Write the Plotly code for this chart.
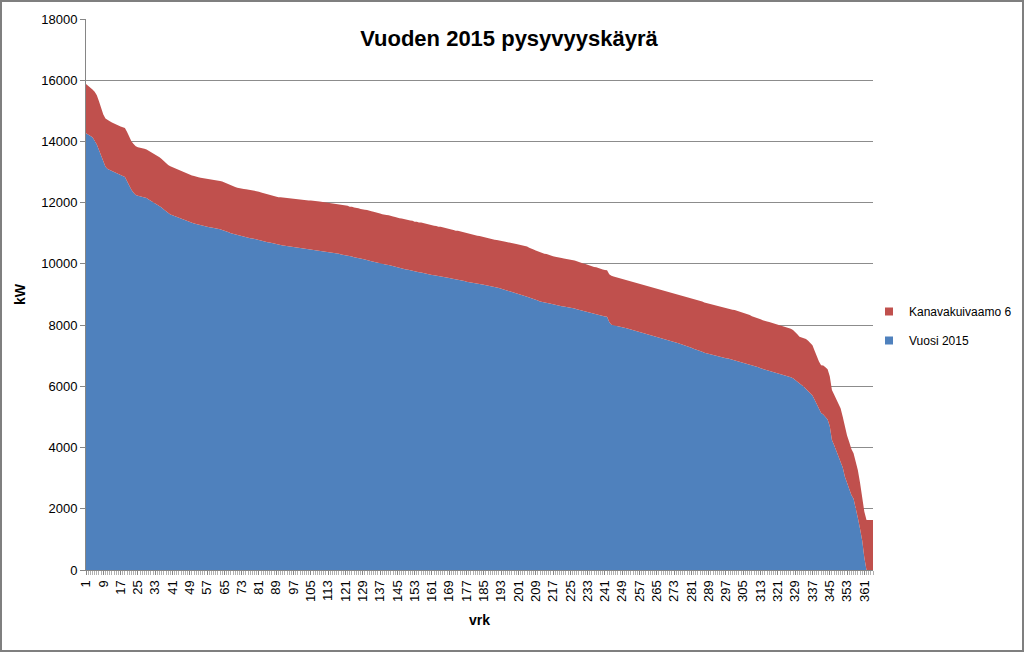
import plotly.graph_objects as go

days = list(range(1, 366))

vuosi_2015 = [
    14270, 14230, 14180, 14140, 14020, 13900, 13720, 13520, 13300, 13170,
    13100, 13060, 13030, 13000, 12970, 12940, 12910, 12880, 12840, 12700,
    12540, 12420, 12320, 12250, 12230, 12210, 12190, 12160, 12150, 12100,
    12060, 12010, 11970, 11940, 11900, 11840, 11780, 11720, 11660, 11610,
    11590, 11560, 11530, 11500, 11470, 11440, 11410, 11380, 11360, 11340,
    11320, 11300, 11280, 11260, 11240, 11230, 11220, 11200, 11190, 11180,
    11170, 11150, 11130, 11110, 11090, 11060, 11030, 11000, 10980, 10960,
    10940, 10920, 10900, 10890, 10870, 10860, 10840, 10830, 10810, 10800,
    10780, 10760, 10740, 10730, 10710, 10700, 10680, 10660, 10640, 10620,
    10610, 10600, 10590, 10580, 10570, 10560, 10550, 10530, 10520, 10510,
    10500, 10490, 10480, 10470, 10470, 10460, 10450, 10440, 10430, 10420,
    10410, 10400, 10390, 10380, 10370, 10360, 10340, 10330, 10310, 10300,
    10280, 10270, 10250, 10240, 10220, 10210, 10190, 10170, 10160, 10140,
    10130, 10110, 10090, 10070, 10050, 10040, 10020, 10000, 9990, 9970,
    9960, 9940, 9920, 9900, 9880, 9860, 9850, 9840, 9820, 9810,
    9790, 9780, 9760, 9750, 9730, 9720, 9700, 9690, 9670, 9660,
    9640, 9630, 9620, 9600, 9590, 9580, 9560, 9550, 9540, 9520,
    9510, 9490, 9480, 9470, 9450, 9440, 9420, 9410, 9400, 9380,
    9370, 9360, 9340, 9330, 9320, 9300, 9290, 9270, 9260, 9240,
    9230, 9210, 9190, 9170, 9150, 9130, 9110, 9080, 9060, 9040,
    9020, 9000, 8970, 8950, 8930, 8900, 8880, 8850, 8830, 8800,
    8770, 8760, 8740, 8730, 8710, 8700, 8680, 8660, 8650, 8630,
    8620, 8610, 8600, 8580, 8570, 8550, 8540, 8520, 8500, 8480,
    8460, 8450, 8430, 8410, 8390, 8370, 8360, 8340, 8320, 8300,
    8280, 8270, 8100, 8010, 7990, 7980, 7960, 7950, 7930, 7910,
    7900, 7880, 7870, 7850, 7830, 7810, 7790, 7770, 7750, 7730,
    7710, 7690, 7670, 7650, 7630, 7610, 7590, 7570, 7550, 7520,
    7500, 7470, 7460, 7430, 7410, 7380, 7360, 7330, 7310, 7280,
    7260, 7230, 7210, 7180, 7160, 7130, 7100, 7080, 7060, 7040,
    7020, 7000, 6990, 6970, 6950, 6940, 6920, 6910, 6890, 6870,
    6860, 6840, 6820, 6800, 6780, 6760, 6740, 6720, 6690, 6670,
    6640, 6620, 6590, 6570, 6560, 6540, 6520, 6500, 6480, 6460,
    6440, 6420, 6400, 6380, 6350, 6330, 6300, 6260, 6210, 6160,
    6110, 6040, 5990, 5910, 5830, 5750, 5700, 5560, 5400, 5260,
    5130, 5080, 5000, 4920, 4700, 4250, 4080, 3900, 3720, 3560,
    3350, 3050, 2830, 2640, 2450, 2330, 2050, 1700, 1350, 960,
    400, 0, 0, 0, 0,
]

kanavakuivaamo_6 = [
    1610, 1600, 1590, 1560, 1600, 1610, 1590, 1580, 1580, 1580,
    1590, 1600, 1590, 1580, 1590, 1580, 1580, 1590, 1600, 1610,
    1600, 1590, 1600, 1590, 1580, 1590, 1600, 1600, 1590, 1600,
    1590, 1600, 1600, 1590, 1580, 1590, 1580, 1580, 1570, 1580,
    1570, 1560, 1560, 1570, 1560, 1550, 1560, 1550, 1560, 1550,
    1550, 1560, 1550, 1550, 1560, 1550, 1560, 1570, 1570, 1580,
    1580, 1590, 1580, 1580, 1570, 1560, 1560, 1550, 1560, 1550,
    1550, 1550, 1560, 1560, 1570, 1570, 1580, 1570, 1580, 1580,
    1580, 1570, 1570, 1560, 1570, 1560, 1560, 1570, 1560, 1560,
    1570, 1570, 1580, 1570, 1580, 1580, 1570, 1580, 1580, 1580,
    1590, 1590, 1600, 1600, 1600, 1610, 1600, 1610, 1610, 1610,
    1600, 1610, 1610, 1600, 1610, 1610, 1620, 1610, 1620, 1620,
    1620, 1630, 1620, 1630, 1620, 1630, 1630, 1620, 1630, 1630,
    1630, 1620, 1630, 1630, 1640, 1630, 1630, 1620, 1630, 1630,
    1630, 1620, 1630, 1630, 1620, 1630, 1630, 1620, 1630, 1620,
    1630, 1630, 1620, 1630, 1620, 1630, 1630, 1620, 1630, 1630,
    1630, 1620, 1620, 1610, 1620, 1610, 1600, 1610, 1600, 1600,
    1600, 1590, 1600, 1590, 1590, 1580, 1580, 1580, 1570, 1570,
    1570, 1560, 1570, 1560, 1560, 1560, 1550, 1560, 1550, 1550,
    1550, 1550, 1560, 1570, 1570, 1580, 1590, 1600, 1600, 1610,
    1610, 1620, 1620, 1630, 1640, 1630, 1630, 1620, 1610, 1610,
    1600, 1600, 1590, 1590, 1580, 1580, 1570, 1570, 1560, 1560,
    1570, 1570, 1570, 1580, 1580, 1580, 1570, 1570, 1560, 1560,
    1550, 1550, 1540, 1540, 1530, 1530, 1530, 1520, 1520, 1520,
    1520, 1520, 1560, 1600, 1600, 1590, 1590, 1590, 1580, 1580,
    1580, 1580, 1580, 1580, 1570, 1580, 1580, 1580, 1570, 1580,
    1580, 1570, 1580, 1580, 1570, 1580, 1580, 1570, 1580, 1580,
    1580, 1580, 1580, 1590, 1590, 1600, 1600, 1610, 1610, 1620,
    1620, 1620, 1630, 1630, 1630, 1640, 1640, 1640, 1640, 1640,
    1640, 1640, 1630, 1640, 1630, 1630, 1640, 1630, 1630, 1630,
    1630, 1630, 1630, 1630, 1620, 1620, 1610, 1610, 1600, 1600,
    1600, 1600, 1600, 1590, 1590, 1580, 1580, 1580, 1580, 1580,
    1580, 1580, 1580, 1580, 1580, 1580, 1580, 1580, 1570, 1540,
    1510, 1560, 1600, 1640, 1660, 1660, 1640, 1600, 1570, 1550,
    1560, 1600, 1620, 1640, 1630, 1630, 1650, 1680, 1700, 1720,
    1660, 1600, 1560, 1540, 1500, 1480, 1520, 1560, 1500, 1400,
    1500, 1630, 1630, 1630, 1630,
]

tick_days = list(range(1, 366, 8))
y_ticks = [0, 2000, 4000, 6000, 8000, 10000, 12000, 14000, 16000, 18000]

BLUE = "#4F81BD"
RED = "#C0504D"
FONT = "Liberation Sans, Arial, sans-serif"

fig = go.Figure()
fig.add_trace(go.Scatter(
    x=days, y=vuosi_2015, name="Vuosi 2015", stackgroup="one", showlegend=False,
    mode="lines", line=dict(width=0, color=BLUE), fillcolor=BLUE,
))
fig.add_trace(go.Scatter(
    x=days, y=kanavakuivaamo_6, name="Kanavakuivaamo 6", stackgroup="one", showlegend=False,
    mode="lines", line=dict(width=0, color=RED), fillcolor=RED,
))
# legend entries with square markers
fig.add_trace(go.Scatter(
    x=[None], y=[None], name="Kanavakuivaamo 6", mode="markers", legendgroup="a",
    legendrank=1, marker=dict(symbol="square", size=8, color=RED), showlegend=True,
))
fig.add_trace(go.Scatter(
    x=[None], y=[None], name="Vuosi 2015", mode="markers", legendgroup="b",
    legendrank=2, marker=dict(symbol="square", size=8, color=BLUE), showlegend=True,
))

L, R, T, B = 86, 151, 19, 82
W, H = 1024, 652
pw, ph = W - L - R, H - T - B

fig.update_layout(
    width=W, height=H,
    margin=dict(l=L, r=R, t=T, b=B, pad=0, autoexpand=False),
    paper_bgcolor="white", plot_bgcolor="white",
    font=dict(family=FONT, size=13, color="#000000"),
    title=dict(text="<b>Vuoden 2015 pysyvyyskäyrä</b>", x=(509 - L) / pw, xref="paper",
               xanchor="center", y=1 - 38 / H, yanchor="middle",
               font=dict(family=FONT, size=22, color="#000000")),
    showlegend=True,
    legend=dict(x=(869 - L) / pw, xanchor="left", y=(570 - 326) / ph, yanchor="middle",
                traceorder="grouped", font=dict(family=FONT, size=12),
                itemwidth=30, bgcolor="rgba(0,0,0,0)", tracegroupgap=10),
    xaxis=dict(
        range=[1, 365], tickmode="array", tickvals=tick_days,
        ticktext=[str(d) for d in tick_days], tickangle=-90,
        tickfont=dict(family=FONT, size=13),
        showgrid=False, zeroline=False, showline=True, linecolor="#868686", linewidth=1,
        ticks="outside", ticklen=4, tickcolor="#868686",
        minor=dict(dtick=1, tick0=1, ticks="outside", ticklen=4, tickcolor="#b0b0b0"),
        title=dict(text="<b>vrk</b>", font=dict(family=FONT, size=14), standoff=14),
    ),
    yaxis=dict(
        range=[0, 18000], tickmode="array", tickvals=y_ticks,
        ticktext=[str(v) for v in y_ticks],
        tickfont=dict(family=FONT, size=13),
        showgrid=True, gridcolor="#8c8c8c", gridwidth=1,
        zeroline=False, showline=True, linecolor="#868686", linewidth=1,
        ticks="outside", ticklen=5, tickcolor="#868686",
        title=dict(text="<b>kW</b>", font=dict(family=FONT, size=14), standoff=12),
    ),
    shapes=[dict(type="rect", xref="paper", yref="paper",
                 x0=(1 - L) / pw, x1=(W - 1 - L) / pw,
                 y0=-(B - 1) / ph, y1=1 + (T - 1) / ph,
                 line=dict(color="#7f7f7f", width=2), fillcolor="rgba(0,0,0,0)",
                 layer="above")],
)

fig.write_html("out.html")
